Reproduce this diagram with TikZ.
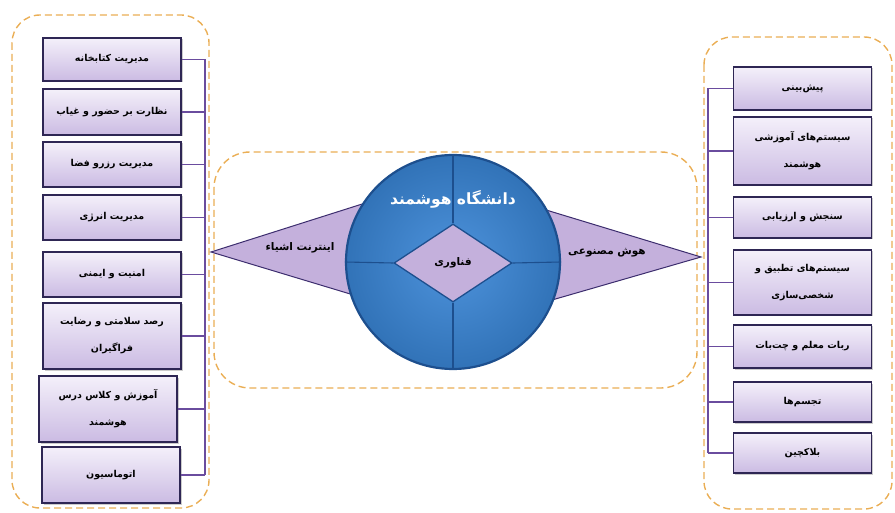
\documentclass[tikz,border=0pt]{standalone}
\usepackage{fontspec}
\usepackage{xcolor}
\usepackage{tikz}
\usetikzlibrary{shapes.geometric}
\usetikzlibrary{shadows}
\TeXXeTstate=1
\newfontfamily\farsi[Script=Arabic]{DejaVu Sans}
\newcommand{\fa}[1]{{\farsi\beginR #1\endR}}
\definecolor{boxline}{HTML}{2E2654}
\definecolor{boxtop}{HTML}{F4F0FA}
\definecolor{boxbot}{HTML}{CBBBE3}
\definecolor{busline}{HTML}{6A4C9E}
\definecolor{dashorange}{HTML}{EAAE55}
\definecolor{hubfill}{HTML}{3A87D8}
\definecolor{hubline}{HTML}{1D4F8E}
\definecolor{trifill}{HTML}{C4B0DC}
\definecolor{triline}{HTML}{3C2D6E}
\tikzset{
	item node/.style={draw=boxline,line width=1.3pt,top color=boxtop,bottom color=boxbot,
		minimum width=138pt,align=center,inner sep=2pt,
		font=\bfseries\fontsize{9.5}{27}\selectfont,drop shadow={opacity=0.4,shadow xshift=1.5pt,shadow yshift=-1.5pt}},
	group box/.style={draw=dashorange,line width=1.4pt,dash pattern=on 7pt off 4pt,rounded corners=28pt},
	bus/.style={draw=busline,line width=1.3pt},
	wing/.style={fill=trifill,draw=triline,line width=1pt,line join=miter},
	hub node/.style={circle,inner color=hubfill!90!white,outer color=hubfill!85!black,draw=hubline,line width=2.2pt,minimum size=214pt,inner sep=0pt},
	tech node/.style={diamond,fill=trifill,draw=hubline,line width=1.3pt,minimum width=118pt,minimum height=78pt,inner sep=0pt},
	wing label/.style={font=\bfseries\fontsize{10.5}{12}\selectfont}
}

\begin{document}
\begin{tikzpicture}[x=1pt,y=-1pt]
		\useasboundingbox (0,0) rectangle (895,513);
		\draw [group box] (12,15) rectangle (209,508);
		\draw [group box,rounded corners=36pt] (214,152) rectangle (697,388);
		\draw [group box] (704,37) rectangle (892,509);

		\coordinate (iot tip) at (211,252);
		\coordinate (ai tip) at (701,257);
		\draw [wing] (iot tip) -- (400,192) -- (400,309) -- cycle;
		\draw [wing] (ai tip) -- (500,196) -- (500,315) -- cycle;

		\node [hub node] (hub) at (453,262) {};
		\node [tech node] (tech) at (453,263) {\bfseries\fontsize{10.5}{12}\selectfont\fa{فناوری}};
		\draw [hubline,line width=1.1pt] (hub.north) -- (tech.north);
		\draw [hubline,line width=1.1pt] (tech.south) -- (hub.south);
		\draw [hubline,line width=1.1pt] (hub.west) -- (tech.west);
		\draw [hubline,line width=1.1pt] (tech.east) -- (hub.east);
		\node [text=white,font=\bfseries\fontsize{15.5}{18}\selectfont] (title) at (453,199) {\fa{دانشگاه هوشمند}};

		\node [wing label] (iot) at (300,248) {\fa{اینترنت اشیاء}};
		\node [wing label] (ai) at (607,253) {\fa{هوش مصنوعی}};

		\node [item node,minimum height=43pt] (l1) at (112,59.5) {\fa{مدیریت کتابخانه}};
		\node [item node,minimum height=46pt] (l2) at (112,112) {\fa{نظارت بر حضور و غیاب}};
		\node [item node,minimum height=45pt] (l3) at (112,164.5) {\fa{مدیریت رزرو فضا}};
		\node [item node,minimum height=45pt] (l4) at (112,217.5) {\fa{مدیریت انرژی}};
		\node [item node,minimum height=45pt] (l5) at (112,274.5) {\fa{امنیت و ایمنی}};
		\node [item node,minimum height=66pt] (l6) at (112,336) {\fa{رصد سلامتی و رضایت}\\\fa{فراگیران}};
		\node [item node,minimum height=66pt] (l7) at (108,409) {\fa{آموزش و کلاس درس}\\\fa{هوشمند}};
		\node [item node,minimum height=56pt] (l8) at (111,475) {\fa{اتوماسیون}};

		\coordinate (left bus top) at (205,59.5);
		\coordinate (left bus end) at (205,475);
		\draw [bus] (left bus top) -- (left bus end);
		\draw [bus] (l1.east) -- (l1.east -| left bus top);
		\draw [bus] (l2.east) -- (l2.east -| left bus top);
		\draw [bus] (l3.east) -- (l3.east -| left bus top);
		\draw [bus] (l4.east) -- (l4.east -| left bus top);
		\draw [bus] (l5.east) -- (l5.east -| left bus top);
		\draw [bus] (l6.east) -- (l6.east -| left bus top);
		\draw [bus] (l7.east) -- (l7.east -| left bus top);
		\draw [bus] (l8.east) -- (l8.east -| left bus top);

		\node [item node,minimum height=43pt] (r1) at (802.5,88.5) {\fa{پیش‌بینی}};
		\node [item node,minimum height=68pt] (r2) at (802.5,151) {\fa{سیستم‌های آموزشی}\\\fa{هوشمند}};
		\node [item node,minimum height=41pt] (r3) at (802.5,217.5) {\fa{سنجش و ارزیابی}};
		\node [item node,minimum height=65pt] (r4) at (802.5,282.5) {\fa{سیستم‌های تطبیق و}\\\fa{شخصی‌سازی}};
		\node [item node,minimum height=43pt] (r5) at (802.5,346.5) {\fa{ربات معلم و چت‌بات}};
		\node [item node,minimum height=40pt] (r6) at (802.5,402) {\fa{تجسم‌ها}};
		\node [item node,minimum height=40pt] (r7) at (802.5,453) {\fa{بلاکچین}};

		\coordinate (right bus top) at (708,88.5);
		\coordinate (right bus end) at (708,453);
		\draw [bus] (right bus top) -- (right bus end);
		\draw [bus] (r1.west) -- (r1.west -| right bus top);
		\draw [bus] (r2.west) -- (r2.west -| right bus top);
		\draw [bus] (r3.west) -- (r3.west -| right bus top);
		\draw [bus] (r4.west) -- (r4.west -| right bus top);
		\draw [bus] (r5.west) -- (r5.west -| right bus top);
		\draw [bus] (r6.west) -- (r6.west -| right bus top);
		\draw [bus] (r7.west) -- (r7.west -| right bus top);
\end{tikzpicture}
\end{document}
